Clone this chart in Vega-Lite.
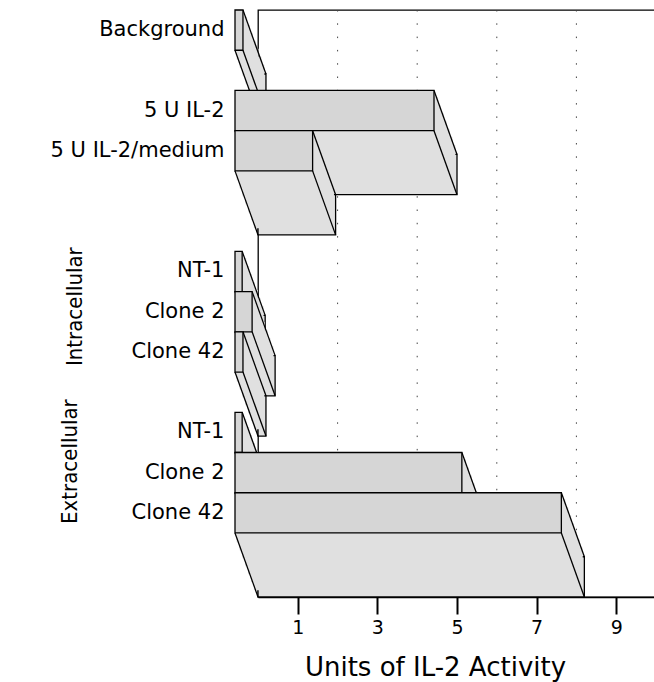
{
  "$schema": "https://vega.github.io/schema/vega-lite/v6.json",
  "width": 398,
  "height": 587,
  "autosize": {"type": "none"},
  "padding": {"left": 258, "top": 10, "right": 0, "bottom": 85},
  "background": "white",
  "config": {
    "view": {"stroke": "black", "strokeWidth": 1.3},
    "font": "DejaVu Sans"
  },
  "datasets": {
    "bars": [
      {"cat": "Background", "value": 0.2},
      {"cat": "5 U IL-2", "value": 5.0},
      {"cat": "5 U IL-2/medium", "value": 1.95},
      {"cat": "Intracellular|NT-1", "value": 0.18},
      {"cat": "Intracellular|Clone 2", "value": 0.43},
      {"cat": "Intracellular|Clone 42", "value": 0.2},
      {"cat": "Extracellular|NT-1", "value": 0.18},
      {"cat": "Extracellular|Clone 2", "value": 5.7},
      {"cat": "Extracellular|Clone 42", "value": 8.2}
    ],
    "grid": [{"v": 2}, {"v": 4}, {"v": 6}, {"v": 8}],
    "groups": [
      {"group": "Intracellular", "cat": "Intracellular|Clone 2"},
      {"group": "Extracellular", "cat": "Extracellular|Clone 2"}
    ]
  },
  "data": {"name": "bars"},
  "layer": [
    {
      "data": {"name": "grid"},
      "mark": {"type": "rule", "color": "#444", "strokeDash": [1.5, 11.8], "strokeWidth": 1},
      "encoding": {
        "x": {
          "field": "v", "type": "quantitative",
          "scale": {"domain": [0, 10], "nice": false, "zero": true},
          "axis": {
            "values": [1, 3, 5, 7, 9], "grid": false,
            "domainColor": "black", "domainWidth": 1.5,
            "tickColor": "black", "tickWidth": 2, "tickSize": 17,
            "labelFont": "DejaVu Sans", "labelFontSize": 19, "labelColor": "black", "labelPadding": 4,
            "title": "Units of IL-2 Activity", "titleFont": "DejaVu Sans", "titleFontSize": 26,
            "titleFontWeight": "normal", "titleColor": "black", "titlePadding": 17, "titleX": 177
          }
        }
      }
    },
    {
      "transform": [{"filter": {"field": "cat", "oneOf": ["Background", "5 U IL-2", "Intracellular|NT-1", "Extracellular|NT-1"]}}],
      "layer": [
        {
          "mark": {"type": "bar", "fill": "#e0e0e0", "stroke": "black", "strokeWidth": 1.3, "xOffset": 0, "x2Offset": 0, "yOffset": 64, "y2Offset": 64},
          "encoding": {
            "x": {"field": "value", "type": "quantitative"},
            "y": {
              "field": "cat", "type": "nominal", "sort": null,
              "scale": {
                "type": "band",
                "domain": ["Background", "gap1", "5 U IL-2", "5 U IL-2/medium", "gap2", "gap3", "Intracellular|NT-1", "Intracellular|Clone 2", "Intracellular|Clone 42", "gap4", "Extracellular|NT-1", "Extracellular|Clone 2", "Extracellular|Clone 42"],
                "paddingInner": 0, "paddingOuter": 0.796, "align": 0
              },
              "axis": {
                "title": null, "ticks": false, "domain": false, "grid": false,
                "labelFont": "DejaVu Sans", "labelFontSize": 21, "labelColor": "black", "labelPadding": 34,
                "labelExpr": "indexof(datum.value, 'gap') == 0 ? '' : (indexof(datum.value, '|') >= 0 ? split(datum.value, '|')[1] : datum.value)"
              }
            }
          }
        },
        {"mark": {"type": "bar", "fill": "#e0e0e0", "stroke": "#e0e0e0", "strokeWidth": 2.5, "xOffset": -2.875, "x2Offset": -2.875, "yOffset": 56, "y2Offset": 56}, "encoding": {"x": {"field": "value", "type": "quantitative"}, "y": {"field": "cat", "type": "nominal"}}},
        {"mark": {"type": "bar", "fill": "#e0e0e0", "stroke": "#e0e0e0", "strokeWidth": 2.5, "xOffset": -5.75, "x2Offset": -5.75, "yOffset": 48, "y2Offset": 48}, "encoding": {"x": {"field": "value", "type": "quantitative"}, "y": {"field": "cat", "type": "nominal"}}},
        {"mark": {"type": "bar", "fill": "#e0e0e0", "stroke": "#e0e0e0", "strokeWidth": 2.5, "xOffset": -8.625, "x2Offset": -8.625, "yOffset": 40, "y2Offset": 40}, "encoding": {"x": {"field": "value", "type": "quantitative"}, "y": {"field": "cat", "type": "nominal"}}},
        {"mark": {"type": "bar", "fill": "#e0e0e0", "stroke": "#e0e0e0", "strokeWidth": 2.5, "xOffset": -11.5, "x2Offset": -11.5, "yOffset": 32, "y2Offset": 32}, "encoding": {"x": {"field": "value", "type": "quantitative"}, "y": {"field": "cat", "type": "nominal"}}},
        {"mark": {"type": "bar", "fill": "#e0e0e0", "stroke": "#e0e0e0", "strokeWidth": 2.5, "xOffset": -14.375, "x2Offset": -14.375, "yOffset": 24, "y2Offset": 24}, "encoding": {"x": {"field": "value", "type": "quantitative"}, "y": {"field": "cat", "type": "nominal"}}},
        {"mark": {"type": "bar", "fill": "#e0e0e0", "stroke": "#e0e0e0", "strokeWidth": 2.5, "xOffset": -17.25, "x2Offset": -17.25, "yOffset": 16, "y2Offset": 16}, "encoding": {"x": {"field": "value", "type": "quantitative"}, "y": {"field": "cat", "type": "nominal"}}},
        {"mark": {"type": "bar", "fill": "#e0e0e0", "stroke": "#e0e0e0", "strokeWidth": 2.5, "xOffset": -20.125, "x2Offset": -20.125, "yOffset": 8, "y2Offset": 8}, "encoding": {"x": {"field": "value", "type": "quantitative"}, "y": {"field": "cat", "type": "nominal"}}},
        {"mark": {"type": "rule", "stroke": "black", "strokeWidth": 1.3, "xOffset": -23, "x2Offset": 0, "yOffset": -20.1, "y2Offset": 43.9}, "encoding": {"x": {"field": "value", "type": "quantitative"}, "x2": {"field": "value"}, "y": {"field": "cat", "type": "nominal"}, "y2": {"field": "cat"}}},
        {"mark": {"type": "rule", "stroke": "black", "strokeWidth": 1.3, "xOffset": -23, "x2Offset": 0, "yOffset": 20.1, "y2Offset": 84.1}, "encoding": {"x": {"datum": 0, "type": "quantitative"}, "x2": {"datum": 0}, "y": {"field": "cat", "type": "nominal"}, "y2": {"field": "cat"}}},
        {"mark": {"type": "rule", "stroke": "black", "strokeWidth": 1.3, "xOffset": -23, "x2Offset": 0, "yOffset": 20.1, "y2Offset": 84.1}, "encoding": {"x": {"field": "value", "type": "quantitative"}, "x2": {"field": "value"}, "y": {"field": "cat", "type": "nominal"}, "y2": {"field": "cat"}}},
        {"mark": {"type": "bar", "fill": "#d6d6d6", "stroke": "black", "strokeWidth": 1.3, "xOffset": -23, "x2Offset": -23, "yOffset": 0, "y2Offset": 0}, "encoding": {"x": {"field": "value", "type": "quantitative"}, "y": {"field": "cat", "type": "nominal"}}}
      ]
    },
    {
      "transform": [{"filter": {"field": "cat", "oneOf": ["5 U IL-2/medium", "Intracellular|Clone 2", "Extracellular|Clone 2"]}}],
      "layer": [
        {"mark": {"type": "bar", "fill": "#e0e0e0", "stroke": "black", "strokeWidth": 1.3, "xOffset": 0, "x2Offset": 0, "yOffset": 64, "y2Offset": 64}, "encoding": {"x": {"field": "value", "type": "quantitative"}, "y": {"field": "cat", "type": "nominal"}}},
        {"mark": {"type": "bar", "fill": "#e0e0e0", "stroke": "#e0e0e0", "strokeWidth": 2.5, "xOffset": -2.875, "x2Offset": -2.875, "yOffset": 56, "y2Offset": 56}, "encoding": {"x": {"field": "value", "type": "quantitative"}, "y": {"field": "cat", "type": "nominal"}}},
        {"mark": {"type": "bar", "fill": "#e0e0e0", "stroke": "#e0e0e0", "strokeWidth": 2.5, "xOffset": -5.75, "x2Offset": -5.75, "yOffset": 48, "y2Offset": 48}, "encoding": {"x": {"field": "value", "type": "quantitative"}, "y": {"field": "cat", "type": "nominal"}}},
        {"mark": {"type": "bar", "fill": "#e0e0e0", "stroke": "#e0e0e0", "strokeWidth": 2.5, "xOffset": -8.625, "x2Offset": -8.625, "yOffset": 40, "y2Offset": 40}, "encoding": {"x": {"field": "value", "type": "quantitative"}, "y": {"field": "cat", "type": "nominal"}}},
        {"mark": {"type": "bar", "fill": "#e0e0e0", "stroke": "#e0e0e0", "strokeWidth": 2.5, "xOffset": -11.5, "x2Offset": -11.5, "yOffset": 32, "y2Offset": 32}, "encoding": {"x": {"field": "value", "type": "quantitative"}, "y": {"field": "cat", "type": "nominal"}}},
        {"mark": {"type": "bar", "fill": "#e0e0e0", "stroke": "#e0e0e0", "strokeWidth": 2.5, "xOffset": -14.375, "x2Offset": -14.375, "yOffset": 24, "y2Offset": 24}, "encoding": {"x": {"field": "value", "type": "quantitative"}, "y": {"field": "cat", "type": "nominal"}}},
        {"mark": {"type": "bar", "fill": "#e0e0e0", "stroke": "#e0e0e0", "strokeWidth": 2.5, "xOffset": -17.25, "x2Offset": -17.25, "yOffset": 16, "y2Offset": 16}, "encoding": {"x": {"field": "value", "type": "quantitative"}, "y": {"field": "cat", "type": "nominal"}}},
        {"mark": {"type": "bar", "fill": "#e0e0e0", "stroke": "#e0e0e0", "strokeWidth": 2.5, "xOffset": -20.125, "x2Offset": -20.125, "yOffset": 8, "y2Offset": 8}, "encoding": {"x": {"field": "value", "type": "quantitative"}, "y": {"field": "cat", "type": "nominal"}}},
        {"mark": {"type": "rule", "stroke": "black", "strokeWidth": 1.3, "xOffset": -23, "x2Offset": 0, "yOffset": -20.1, "y2Offset": 43.9}, "encoding": {"x": {"field": "value", "type": "quantitative"}, "x2": {"field": "value"}, "y": {"field": "cat", "type": "nominal"}, "y2": {"field": "cat"}}},
        {"mark": {"type": "rule", "stroke": "black", "strokeWidth": 1.3, "xOffset": -23, "x2Offset": 0, "yOffset": 20.1, "y2Offset": 84.1}, "encoding": {"x": {"datum": 0, "type": "quantitative"}, "x2": {"datum": 0}, "y": {"field": "cat", "type": "nominal"}, "y2": {"field": "cat"}}},
        {"mark": {"type": "rule", "stroke": "black", "strokeWidth": 1.3, "xOffset": -23, "x2Offset": 0, "yOffset": 20.1, "y2Offset": 84.1}, "encoding": {"x": {"field": "value", "type": "quantitative"}, "x2": {"field": "value"}, "y": {"field": "cat", "type": "nominal"}, "y2": {"field": "cat"}}},
        {"mark": {"type": "bar", "fill": "#d6d6d6", "stroke": "black", "strokeWidth": 1.3, "xOffset": -23, "x2Offset": -23, "yOffset": 0, "y2Offset": 0}, "encoding": {"x": {"field": "value", "type": "quantitative"}, "y": {"field": "cat", "type": "nominal"}}}
      ]
    },
    {
      "transform": [{"filter": {"field": "cat", "oneOf": ["Intracellular|Clone 42", "Extracellular|Clone 42"]}}],
      "layer": [
        {"mark": {"type": "bar", "fill": "#e0e0e0", "stroke": "black", "strokeWidth": 1.3, "xOffset": 0, "x2Offset": 0, "yOffset": 64, "y2Offset": 64}, "encoding": {"x": {"field": "value", "type": "quantitative"}, "y": {"field": "cat", "type": "nominal"}}},
        {"mark": {"type": "bar", "fill": "#e0e0e0", "stroke": "#e0e0e0", "strokeWidth": 2.5, "xOffset": -2.875, "x2Offset": -2.875, "yOffset": 56, "y2Offset": 56}, "encoding": {"x": {"field": "value", "type": "quantitative"}, "y": {"field": "cat", "type": "nominal"}}},
        {"mark": {"type": "bar", "fill": "#e0e0e0", "stroke": "#e0e0e0", "strokeWidth": 2.5, "xOffset": -5.75, "x2Offset": -5.75, "yOffset": 48, "y2Offset": 48}, "encoding": {"x": {"field": "value", "type": "quantitative"}, "y": {"field": "cat", "type": "nominal"}}},
        {"mark": {"type": "bar", "fill": "#e0e0e0", "stroke": "#e0e0e0", "strokeWidth": 2.5, "xOffset": -8.625, "x2Offset": -8.625, "yOffset": 40, "y2Offset": 40}, "encoding": {"x": {"field": "value", "type": "quantitative"}, "y": {"field": "cat", "type": "nominal"}}},
        {"mark": {"type": "bar", "fill": "#e0e0e0", "stroke": "#e0e0e0", "strokeWidth": 2.5, "xOffset": -11.5, "x2Offset": -11.5, "yOffset": 32, "y2Offset": 32}, "encoding": {"x": {"field": "value", "type": "quantitative"}, "y": {"field": "cat", "type": "nominal"}}},
        {"mark": {"type": "bar", "fill": "#e0e0e0", "stroke": "#e0e0e0", "strokeWidth": 2.5, "xOffset": -14.375, "x2Offset": -14.375, "yOffset": 24, "y2Offset": 24}, "encoding": {"x": {"field": "value", "type": "quantitative"}, "y": {"field": "cat", "type": "nominal"}}},
        {"mark": {"type": "bar", "fill": "#e0e0e0", "stroke": "#e0e0e0", "strokeWidth": 2.5, "xOffset": -17.25, "x2Offset": -17.25, "yOffset": 16, "y2Offset": 16}, "encoding": {"x": {"field": "value", "type": "quantitative"}, "y": {"field": "cat", "type": "nominal"}}},
        {"mark": {"type": "bar", "fill": "#e0e0e0", "stroke": "#e0e0e0", "strokeWidth": 2.5, "xOffset": -20.125, "x2Offset": -20.125, "yOffset": 8, "y2Offset": 8}, "encoding": {"x": {"field": "value", "type": "quantitative"}, "y": {"field": "cat", "type": "nominal"}}},
        {"mark": {"type": "rule", "stroke": "black", "strokeWidth": 1.3, "xOffset": -23, "x2Offset": 0, "yOffset": -20.1, "y2Offset": 43.9}, "encoding": {"x": {"field": "value", "type": "quantitative"}, "x2": {"field": "value"}, "y": {"field": "cat", "type": "nominal"}, "y2": {"field": "cat"}}},
        {"mark": {"type": "rule", "stroke": "black", "strokeWidth": 1.3, "xOffset": -23, "x2Offset": 0, "yOffset": 20.1, "y2Offset": 84.1}, "encoding": {"x": {"datum": 0, "type": "quantitative"}, "x2": {"datum": 0}, "y": {"field": "cat", "type": "nominal"}, "y2": {"field": "cat"}}},
        {"mark": {"type": "rule", "stroke": "black", "strokeWidth": 1.3, "xOffset": -23, "x2Offset": 0, "yOffset": 20.1, "y2Offset": 84.1}, "encoding": {"x": {"field": "value", "type": "quantitative"}, "x2": {"field": "value"}, "y": {"field": "cat", "type": "nominal"}, "y2": {"field": "cat"}}},
        {"mark": {"type": "bar", "fill": "#d6d6d6", "stroke": "black", "strokeWidth": 1.3, "xOffset": -23, "x2Offset": -23, "yOffset": 0, "y2Offset": 0}, "encoding": {"x": {"field": "value", "type": "quantitative"}, "y": {"field": "cat", "type": "nominal"}}}
      ]
    },
    {
      "data": {"name": "groups"},
      "transform": [{"filter": {"field": "group", "equal": "Intracellular"}}],
      "mark": {"type": "text", "angle": 270, "font": "DejaVu Sans Condensed, Liberation Sans Narrow, sans-serif", "fontSize": 22, "color": "black", "align": "center", "baseline": "middle", "xOffset": -183, "yOffset": -5},
      "encoding": {
        "text": {"field": "group"},
        "x": {"datum": 0, "type": "quantitative"},
        "y": {"field": "cat", "type": "nominal"}
      }
    },
    {
      "data": {"name": "groups"},
      "transform": [{"filter": {"field": "group", "equal": "Extracellular"}}],
      "mark": {"type": "text", "angle": 270, "font": "DejaVu Sans Condensed, Liberation Sans Narrow, sans-serif", "fontSize": 22, "color": "black", "align": "center", "baseline": "middle", "xOffset": -188, "yOffset": -11},
      "encoding": {
        "text": {"field": "group"},
        "x": {"datum": 0, "type": "quantitative"},
        "y": {"field": "cat", "type": "nominal"}
      }
    }
  ]
}
